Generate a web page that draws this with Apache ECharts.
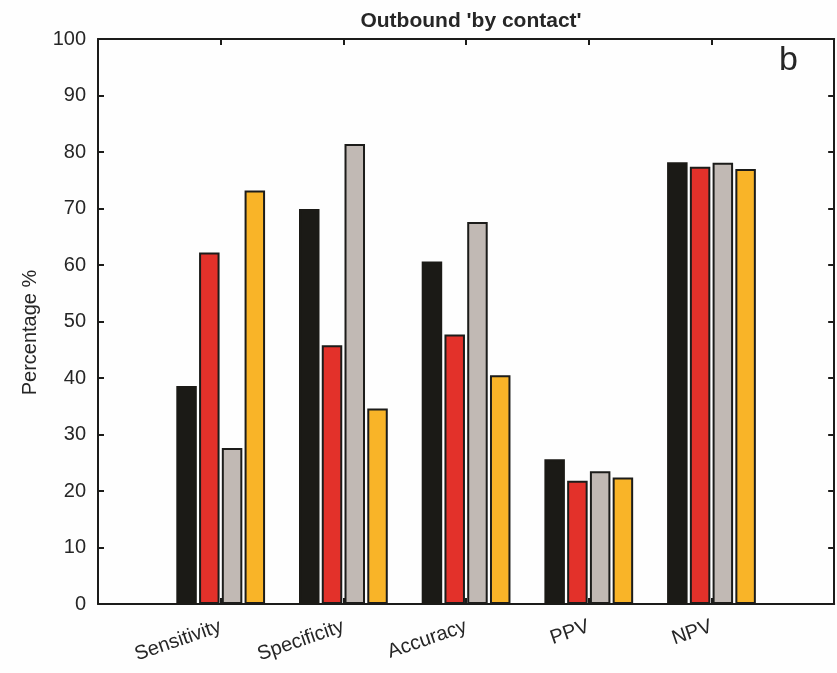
<!DOCTYPE html>
<html>
<head>
<meta charset="utf-8">
<script src="https://cdn.jsdelivr.net/npm/echarts@6/dist/echarts.min.js"></script>
<style>
  html, body { margin: 0; padding: 0; background: #fefefe; }
  #chart { width: 837px; height: 673px; }
</style>
</head>
<body>
<div id="chart"></div>
<script>
// Metric groups along the x axis (placed at positions 1..5)
const categories = ['Sensitivity', 'Specificity', 'Accuracy', 'PPV', 'NPV'];

// Four series, one value per metric (%)
const seriesBlack  = [38.6, 69.9, 60.6, 25.6, 78.2];
const seriesRed    = [62.2, 45.8, 47.7, 21.8, 77.4];
const seriesGrey   = [27.6, 81.4, 67.6, 23.5, 78.1];
const seriesYellow = [73.2, 34.6, 40.5, 22.4, 77.0];

const yTicks = [0, 10, 20, 30, 40, 50, 60, 70, 80, 90, 100];

const FONT = '"Liberation Sans", Arial, sans-serif';
const INK = '#1c1c1a';
const TEXT = '#262626';

function toPoints(values) {
  return values.map((v, i) => [i + 1, v]);
}

function barSeries(name, values, fill, border) {
  return {
    name: name,
    type: 'bar',
    xAxisIndex: 0,
    yAxisIndex: 0,
    barWidth: 20.5,
    barGap: '11%',
    data: toPoints(values),
    itemStyle: { color: fill, borderColor: border, borderWidth: 2 },
    emphasis: { disabled: true }
  };
}

const chart = echarts.init(document.getElementById('chart'), null, { renderer: 'canvas' });

const axisLine = { show: true, onZero: false, lineStyle: { color: INK, width: 2 } };
const innerTick = { show: true, inside: true, length: 6, lineStyle: { color: INK, width: 2 } };

chart.setOption({
  backgroundColor: '#fefefe',
  animation: false,
  title: {
    text: "Outbound 'by contact'",
    left: 466,
    textAlign: 'center',
    top: 6,
    textStyle: { fontFamily: FONT, fontWeight: 'bold', fontSize: 21, color: TEXT }
  },
  graphic: [{
    type: 'text',
    left: 779,
    top: 44,
    style: { text: 'b', font: '34px ' + FONT, fill: TEXT }
  }],
  grid: { left: 98, right: 1, top: 39, bottom: 69 },
  xAxis: [{
    type: 'value',
    position: 'bottom',
    min: 0,
    max: 6,
    interval: 1,
    axisLine: axisLine,
    axisTick: innerTick,
    splitLine: { show: false },
    axisLabel: {
      rotate: 19,
      margin: 22,
      fontFamily: FONT,
      fontSize: 20,
      color: TEXT,
      formatter: function (v) {
        return categories[v - 1] || '';
      }
    }
  }, {
    type: 'value',
    position: 'top',
    min: 0,
    max: 6,
    interval: 1,
    axisLine: axisLine,
    axisTick: innerTick,
    axisLabel: { show: false },
    splitLine: { show: false }
  }],
  yAxis: [{
    type: 'value',
    position: 'left',
    min: yTicks[0],
    max: yTicks[yTicks.length - 1],
    interval: 10,
    name: 'Percentage %',
    nameLocation: 'middle',
    nameGap: 58,
    nameTextStyle: { fontFamily: FONT, fontSize: 20, color: TEXT, padding: [0, 0, 0, -22] },
    axisLine: axisLine,
    axisTick: innerTick,
    splitLine: { show: false },
    axisLabel: { fontFamily: FONT, fontSize: 20, color: TEXT, margin: 12 }
  }, {
    type: 'value',
    position: 'right',
    min: yTicks[0],
    max: yTicks[yTicks.length - 1],
    interval: 10,
    axisLine: axisLine,
    axisTick: innerTick,
    axisLabel: { show: false },
    splitLine: { show: false }
  }],
  series: [
    barSeries('Black', seriesBlack, '#1b1a16', '#1b1a16'),
    barSeries('Red', seriesRed, '#e3312a', INK),
    barSeries('Grey', seriesGrey, '#c1b9b4', INK),
    barSeries('Yellow', seriesYellow, '#f9b428', INK)
  ]
});
</script>
</body>
</html>
